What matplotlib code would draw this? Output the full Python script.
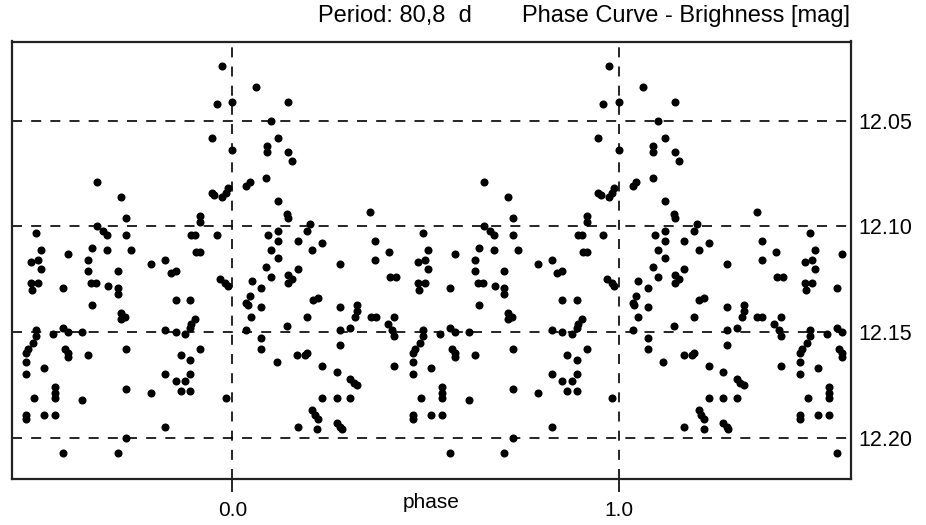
import numpy as np
import matplotlib
matplotlib.use("Agg")
import matplotlib.pyplot as plt

plt.rcParams["font.family"] = ["Liberation Sans", "DejaVu Sans"]

# phase-folded observations (one cycle), brightness in mag
phase = [
    0.973, 0.999, 0.999, 0.973, 0.983, 0.988, 0.968, 0.981, 0.988, 0.983,
    0.061, 0.144, 0.100, 0.118, 0.089, 0.089, 0.144, 0.154, 0.087, 0.045,
    0.035, 0.118, 0.141, 0.144, 0.201, 0.193, 0.092, 0.118, 0.118, 0.169,
    0.232, 0.100, 0.206, 0.118, 0.087, 0.278, 0.100, 0.144, 0.154, 0.144,
    0.169, 0.050, 0.074, 0.045, 0.035, 0.040, 0.074, 0.208, 0.221, 0.278,
    0.048, 0.193, 0.141, 0.035, 0.278, 0.278, 0.074, 0.074, 0.115, 0.167,
    0.188, 0.193, 0.232, 0.270, 0.232, 0.270, 0.206, 0.213, 0.221, 0.270,
    0.278, 0.283, 0.169, 0.219,
    0.356, 0.369, 0.405, 0.369, 0.493, 0.506, 0.480, 0.498, 0.576, 0.506,
    0.408, 0.423, 0.480, 0.498, 0.483, 0.563, 0.322, 0.322, 0.317, 0.358,
    0.371, 0.418, 0.402, 0.413, 0.418, 0.304, 0.493, 0.493, 0.537, 0.563,
    0.576, 0.612, 0.485, 0.472, 0.467, 0.568, 0.576, 0.576, 0.467, 0.418,
    0.514, 0.467, 0.304, 0.314, 0.322, 0.542, 0.542, 0.488, 0.304, 0.612,
    0.467, 0.467, 0.514, 0.542, 0.563, 0.542,
    0.651, 0.713, 0.726, 0.651, 0.666, 0.677, 0.726, 0.894, 0.904, 0.638,
    0.677, 0.739, 0.907, 0.917, 0.627, 0.790, 0.827, 0.627, 0.703, 0.840,
    0.853, 0.635, 0.648, 0.679, 0.703, 0.703, 0.638, 0.713, 0.723, 0.713,
    0.853, 0.891, 0.904, 0.894, 0.891, 0.827, 0.853, 0.878, 0.726, 0.627,
    0.866, 0.891, 0.917, 0.827, 0.853, 0.878, 0.891, 0.866, 0.891, 0.726,
    0.790, 0.827, 0.726, 0.703,
    0.917, 0.917, 0.959, 0.946, 0.946, 0.953, 0.959,
]
mag = [
    12.024, 12.041, 12.064, 12.086, 12.084, 12.082, 12.125, 12.127, 12.128, 12.181,
    12.034, 12.041, 12.050, 12.058, 12.062, 12.065, 12.065, 12.069, 12.077, 12.079,
    12.081, 12.088, 12.094, 12.096, 12.099, 12.102, 12.104, 12.102, 12.107, 12.107,
    12.108, 12.111, 12.111, 12.115, 12.119, 12.118, 12.124, 12.123, 12.125, 12.127,
    12.120, 12.126, 12.129, 12.133, 12.136, 12.137, 12.138, 12.135, 12.134, 12.138,
    12.143, 12.143, 12.147, 12.149, 12.149, 12.156, 12.153, 12.158, 12.164, 12.161,
    12.161, 12.160, 12.166, 12.169, 12.181, 12.181, 12.187, 12.189, 12.191, 12.193,
    12.195, 12.196, 12.195, 12.196,
    12.093, 12.107, 12.112, 12.116, 12.103, 12.111, 12.117, 12.116, 12.113, 12.120,
    12.124, 12.124, 12.127, 12.127, 12.130, 12.129, 12.137, 12.140, 12.143, 12.143,
    12.143, 12.143, 12.146, 12.149, 12.152, 12.148, 12.149, 12.152, 12.151, 12.148,
    12.150, 12.150, 12.155, 12.158, 12.160, 12.158, 12.160, 12.162, 12.164, 12.166,
    12.167, 12.170, 12.172, 12.174, 12.175, 12.176, 12.181, 12.181, 12.181, 12.182,
    12.189, 12.191, 12.189, 12.189, 12.207, 12.179,
    12.079, 12.086, 12.096, 12.100, 12.102, 12.104, 12.104, 12.104, 12.104, 12.110,
    12.111, 12.111, 12.112, 12.112, 12.116, 12.118, 12.116, 12.121, 12.121, 12.122,
    12.121, 12.127, 12.127, 12.128, 12.129, 12.132, 12.137, 12.141, 12.143, 12.144,
    12.135, 12.135, 12.144, 12.146, 12.148, 12.149, 12.150, 12.151, 12.158, 12.161,
    12.161, 12.163, 12.158, 12.170, 12.173, 12.173, 12.170, 12.178, 12.178, 12.177,
    12.179, 12.195, 12.200, 12.207,
    12.095, 12.098, 12.042, 12.058, 12.084, 12.085, 12.104,
]

x_range = (-0.57, 1.60)
y_range = (12.2195, 12.0125)
mag_grid = [12.05, 12.10, 12.15, 12.20]
phase_ticks = [0.0, 1.0]
phase_labels = ["0.0", "1.0"]

fig = plt.figure(figsize=(9.26, 5.25), dpi=100)
ax = fig.add_axes([12 / 926, 1 - 479 / 525, 839 / 926, 437.5 / 525])

ph = np.array(phase)
mg = np.array(mag)
# each point is repeated one cycle earlier and later inside the window
for shift in (-1, 0, 1):
    xs = ph + shift
    keep = (xs >= x_range[0]) & (xs <= x_range[1])
    ax.plot(xs[keep], mg[keep], "o", color="black", ms=5.8, mew=0, zorder=3)

dash = (0, (6, 5.5))
for m in mag_grid:
    ax.axhline(m, color="black", lw=1.2, ls=dash, zorder=1)
for p in phase_ticks:
    ax.axvline(p, color="black", lw=1.2, ls=dash, zorder=1)

ax.set_xlim(*x_range)
ax.set_ylim(*y_range)

ax.yaxis.tick_right()
ax.set_yticks(mag_grid, [f"{m:.2f}" for m in mag_grid])
ax.tick_params(axis="y", length=0, pad=5, labelsize=15.5)
ax.set_xticks(phase_ticks, phase_labels)
ax.tick_params(axis="x", direction="out", length=9, width=1.2, pad=7, labelsize=15)

ax.set_xlabel("phase", fontsize=15)
ax.xaxis.set_label_coords(0.5, -0.033)

for s in ax.spines.values():
    s.set_linewidth(1.6)
    s.set_color("#222222")

fig.text(395 / 926, 1 - 16 / 525, "Period: 80,8  d", ha="center", va="center", fontsize=17)
fig.text(850 / 926, 1 - 16 / 525, "Phase Curve - Brighness [mag]", ha="right", va="center", fontsize=17)

fig.savefig("out.png", dpi=100)
